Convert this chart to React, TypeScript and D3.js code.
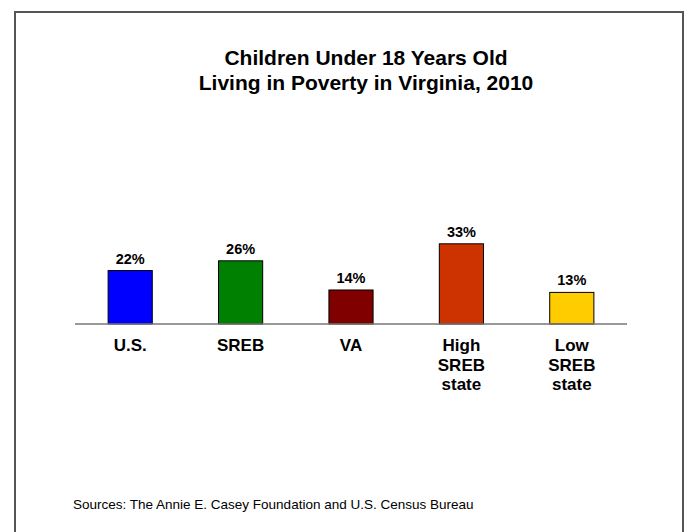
import React from "react";
import * as d3 from "d3";

const categories: string[][] = [["U.S."], ["SREB"], ["VA"], ["High", "SREB", "state"], ["Low", "SREB", "state"]];
const values: number[] = [22, 26, 14, 33, 13];
const colors: string[] = ["#0000FF", "#008000", "#800000", "#CC3300", "#FFCC00"];
const titleLines: string[] = ["Children Under 18 Years Old", "Living in Poverty in Virginia, 2010"];
const sourceText = "Sources: The Annie E. Casey Foundation and U.S. Census Bureau";

const W = 684;
const H = 532;
const FONT = "'Liberation Sans', Arial, sans-serif";

export default function App() {
  const keys = categories.map((c) => c.join(" "));
  const x = d3.scaleBand<string>().domain(keys).range([75, 627]).paddingInner(0.6).paddingOuter(0.3);
  const baseY = 324;
  const y = d3.scaleLinear().domain([0, 100]).range([baseY, baseY - 243]);

  return (
    <svg width={W} height={H} style={{ position: "absolute", left: 0, top: 0, background: "#fff" }} fontFamily={FONT}>
      <rect x={0} y={0} width={W} height={H} fill="#fff" />
      <rect x={15} y={12} width={668} height={560} fill="none" stroke="#555" strokeWidth={2} />
      {titleLines.map((t, i) => (
        <text key={i} x={366} y={65 + i * 25} textAnchor="middle" fontSize={21} fontWeight="bold" fill="#000">
          {t}
        </text>
      ))}
      {values.map((v, i) => {
        const k = keys[i];
        const bx = x(k)!;
        const bw = x.bandwidth();
        return (
          <g key={k}>
            <rect x={bx} y={y(v)} width={bw} height={baseY - y(v)} fill={colors[i]} stroke="#000" strokeWidth={1} />
            <text x={bx + bw / 2} y={y(v) - 7} textAnchor="middle" fontSize={14.5} fontWeight="bold" fill="#000">
              {v}%
            </text>
            {categories[i].map((line, j) => (
              <text key={j} x={bx + bw / 2} y={351 + j * 19.7} textAnchor="middle" fontSize={17} fontWeight="bold" fill="#000">
                {line}
              </text>
            ))}
          </g>
        );
      })}
      <line x1={75} x2={627} y1={baseY} y2={baseY} stroke="#777" strokeWidth={1.5} />
      <text x={73} y={509} fontSize={13.5} fill="#000">
        {sourceText}
      </text>
    </svg>
  );
}
